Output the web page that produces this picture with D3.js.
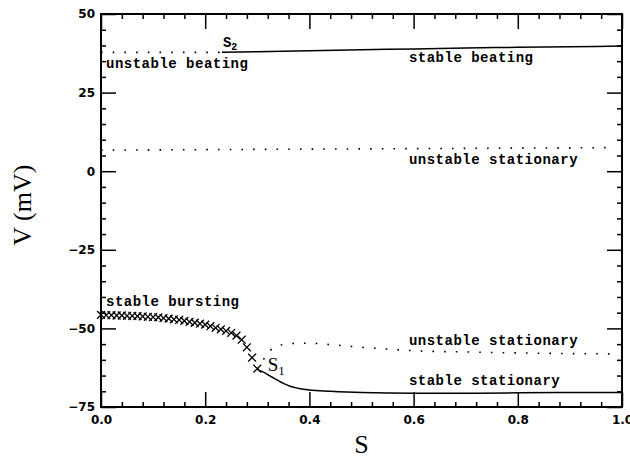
<!DOCTYPE html>
<html>
<head>
<meta charset="utf-8">
<script src="https://cdn.jsdelivr.net/npm/d3@7"></script>
<style>
  html, body { margin: 0; padding: 0; background: #fff; }
  svg { display: block; }
</style>
</head>
<body>
<svg id="chart" width="630" height="457"></svg>
<script>
// ---------- data ----------
const xTicks = [0.0, 0.2, 0.4, 0.6, 0.8, 1.0];
const yTicks = [-75, -50, -25, 0, 25, 50];

// unstable beating (dotted), S from 0 to S2
const unstableBeatingS = [0.0, 0.232];
const unstableBeatingV = [37.8, 37.8];

// stable beating (solid), from S2 to 1
const stableBeatingS = [0.232, 0.3, 0.4, 0.5, 0.6, 0.7, 0.8, 0.9, 1.0];
const stableBeatingV = [37.8, 38.0, 38.3, 38.6, 38.9, 39.2, 39.4, 39.6, 39.8];

// upper unstable stationary (dotted)
const unstableStatUpS = [0.0, 0.25, 0.5, 0.75, 0.98];
const unstableStatUpV = [6.7, 6.9, 7.1, 7.3, 7.5];

// lower unstable stationary (dotted), starts at S1
const unstableStatLowS = [0.301, 0.31, 0.317, 0.325, 0.334, 0.345, 0.357, 0.38, 0.40, 0.45, 0.50, 0.55, 0.60, 0.70, 0.80, 0.90, 0.98];
const unstableStatLowV = [-63.2, -60.5, -58.5, -57.0, -55.9, -55.3, -55.0, -54.7, -54.7, -55.3, -56.0, -56.6, -57.1, -57.5, -57.8, -58.0, -58.1];

// stable stationary (solid), from S1 to 1
const stableStatS = [0.301, 0.312, 0.325, 0.338, 0.35, 0.363, 0.38, 0.40, 0.44, 0.50, 0.60, 0.70, 0.80, 0.90, 1.0];
const stableStatV = [-63.2, -63.9, -65.2, -66.4, -67.5, -68.4, -69.1, -69.6, -70.0, -70.4, -70.6, -70.6, -70.5, -70.4, -70.4];

// stable bursting (crosses)
const burstS = [0.00, 0.01, 0.02, 0.03, 0.04, 0.05, 0.06, 0.07, 0.08, 0.09, 0.10, 0.11, 0.12, 0.13, 0.14, 0.15,
                0.16, 0.17, 0.18, 0.19, 0.20, 0.21, 0.22, 0.23, 0.24, 0.25, 0.26, 0.27, 0.28, 0.29, 0.30];
const burstV = [-45.7, -45.8, -45.8, -45.9, -45.9, -46.0, -46.0, -46.1, -46.2, -46.3, -46.4, -46.5, -46.7, -46.9, -47.1, -47.3,
                -47.6, -47.9, -48.2, -48.5, -48.8, -49.3, -49.8, -50.3, -50.8, -51.4, -52.3, -53.6, -56.0, -59.3, -62.8];

// annotation labels
const labelTexts = ["unstable beating", "stable beating", "unstable stationary", "stable bursting", "unstable stationary", "stable stationary"];
const labelS = [0.0096, 0.591, 0.591, 0.0096, 0.591, 0.591];
const labelV = [32.8, 34.7, 2.3, -42.9, -55.3, -68.0];

// ---------- layout ----------
const svg = d3.select("#chart");
const L = 101, R = 622, T = 14, B = 407;
const x = d3.scaleLinear().domain([0, 1]).range([L, R]);
const y = d3.scaleLinear().domain([-75, 50]).range([B, T]);

const zip = (a, b) => a.map((d, i) => [d, b[i]]);
const line = d3.line().x(d => x(d[0])).y(d => y(d[1])).curve(d3.curveMonotoneX);

// ---------- axes: inward major/minor ticks on all four sides ----------
const majorLen = 15, minorLen = 5;
const xMinor = d3.range(0, 1.0001, 0.04).filter(v => Math.abs(v / 0.2 - Math.round(v / 0.2)) > 1e-6);
const yMinor = d3.range(-75, 50.001, 5).filter(v => v % 25 !== 0);
const tickFont = "'DejaVu Sans', sans-serif";

function styleAxis(g) {
  g.select(".domain").remove();
  g.selectAll(".tick line").attr("stroke", "#000").attr("stroke-width", 1.5);
  g.selectAll("text").attr("font-family", tickFont).attr("font-weight", "bold").attr("font-size", 12).attr("fill", "#000");
}
function addAxis(axisFn, scale, pos, vals, len, fmt, pad) {
  const a = axisFn(scale).tickValues(vals).tickSizeInner(-len).tickSizeOuter(0).tickPadding(pad || 3);
  a.tickFormat(fmt || (() => ""));
  const isX = axisFn === d3.axisBottom || axisFn === d3.axisTop;
  svg.append("g").attr("transform", isX ? `translate(0,${pos})` : `translate(${pos},0)`)
    .call(a).call(styleAxis);
}
addAxis(d3.axisBottom, x, B, xTicks, majorLen, d3.format(".1f"), 8);
addAxis(d3.axisBottom, x, B, xMinor, minorLen);
addAxis(d3.axisTop, x, T, xTicks, majorLen);
addAxis(d3.axisTop, x, T, xMinor, minorLen);
addAxis(d3.axisLeft, y, L, yTicks, majorLen, d3.format("d"), 6);
addAxis(d3.axisLeft, y, L, yMinor, minorLen);
addAxis(d3.axisRight, y, R, yTicks, majorLen);
addAxis(d3.axisRight, y, R, yMinor, minorLen);

// frame
svg.append("rect").attr("x", L).attr("y", T).attr("width", R - L).attr("height", B - T)
  .attr("fill", "none").attr("stroke", "#000").attr("stroke-width", 2);

// axis titles
svg.append("text").attr("x", x(0.5)).attr("y", 453).attr("text-anchor", "middle")
  .attr("font-family", "'Liberation Serif', serif").attr("font-size", 26).text("S");
svg.append("text").attr("transform", `translate(31,${y(-10.8)}) rotate(-90)`).attr("text-anchor", "middle")
  .attr("font-family", "'Liberation Serif', serif").attr("font-size", 26).text("V (mV)");

// ---------- curves ----------
function addPath(data, isDotted) {
  const p = svg.append("path").datum(data).attr("d", line).attr("fill", "none").attr("stroke", "#000");
  if (isDotted) { p.attr("stroke-dasharray", "1.6,10.1").attr("stroke-width", 1.6); }
  else { p.attr("stroke-width", 1.5); }
}
addPath(zip(unstableBeatingS, unstableBeatingV), true);
addPath(zip(stableBeatingS, stableBeatingV), false);
addPath(zip(unstableStatUpS, unstableStatUpV), true);
addPath(zip(unstableStatLowS, unstableStatLowV), true);
addPath(zip(stableStatS, stableStatV), false);

// bursting crosses
const cross = d3.symbol().type(d3.symbolX).size(42);
svg.append("g").selectAll("path").data(zip(burstS, burstV)).join("path")
  .attr("transform", d => `translate(${x(d[0])},${y(d[1])})`)
  .attr("d", cross).attr("fill", "none").attr("stroke", "#000").attr("stroke-width", 1.3);

// ---------- annotations ----------
const monoFont = "'Liberation Mono', 'DejaVu Sans Mono', monospace";
svg.append("g").selectAll("text").data(labelTexts).join("text")
  .attr("x", (d, i) => x(labelS[i])).attr("y", (d, i) => y(labelV[i]))
  .attr("font-family", monoFont).attr("font-weight", "bold").attr("font-size", 14)
  .attr("letter-spacing", 0.5).attr("fill", "#000").text(d => d);

const s2 = svg.append("text").attr("x", x(0.234)).attr("y", y(39.5))
  .attr("font-family", monoFont).attr("font-weight", "bold").attr("font-size", 14);
s2.append("tspan").text("S");
s2.append("tspan").attr("dy", 3).attr("font-size", 10).text("2");

const s1 = svg.append("text").attr("x", x(0.32)).attr("y", y(-63.5))
  .attr("font-family", "'Liberation Serif', serif").attr("font-size", 19);
s1.append("tspan").text("S");
s1.append("tspan").attr("dy", 4).attr("font-size", 13).text("1");
</script>
</body>
</html>
